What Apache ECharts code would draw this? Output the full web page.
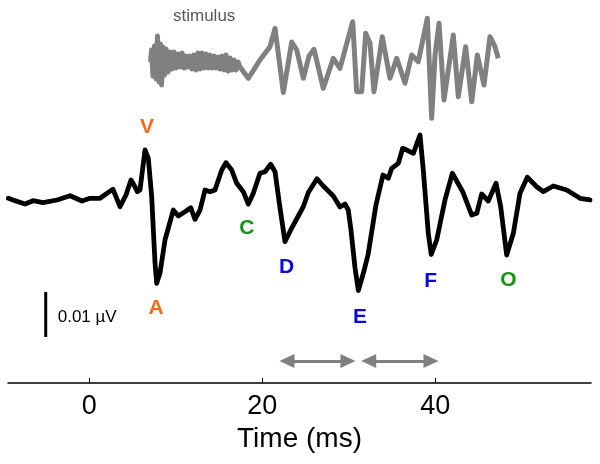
<!DOCTYPE html>
<html><head><meta charset="utf-8">
<script src="https://cdn.jsdelivr.net/npm/echarts@6/dist/echarts.min.js"></script>
<style>html,body{margin:0;padding:0;background:#fff}#c{width:600px;height:464px}</style>
</head><body><div id="c"></div>
<script>
// Response waveform (time in ms, amplitude in nV)
const respTime=[-9.36,-8.82,-7.43,-6.51,-5.35,-3.73,-2.23,-0.84,0.08,1.24,2.05,2.74,3.55,4.24,4.82,5.28,5.55,5.86,6.44,6.82,7.21,7.60,7.79,8.17,8.75,9.71,10.29,11.06,11.72,12.22,12.80,13.38,13.95,14.53,15.31,15.80,16.46,17.04,17.80,18.38,18.96,19.73,20.31,20.97,21.47,21.97,22.62,23.38,24.16,24.74,25.32,26.32,27.05,28.21,28.98,29.56,29.94,30.25,30.72,31.10,31.68,32.22,33.14,33.95,34.57,34.96,35.72,36.23,36.69,37.46,38.23,38.61,39.19,39.53,40.16,41.12,41.97,43.17,44.21,44.79,45.36,46.13,47.02,47.56,48.25,49.02,49.79,50.64,51.72,52.49,53.64,55.19,56.73,57.89];
const respAmp=[1.04,0.67,-0.22,0.51,0.07,0.67,1.62,0.44,1.04,1.04,2.16,3.04,-0.82,1.78,5.11,3.62,2.51,2.89,11.78,9.93,1.4,-13.4,-17.84,-15.62,-8.22,-1.56,-2.89,-1.93,-1.04,-3.62,-1.56,2.89,2.51,2.89,7.33,8.96,7.33,4.38,2.51,-0.22,2.16,6.6,6.96,8.6,6.96,-0.07,-8.6,-5.62,-2.89,-0.82,2.33,5.38,3.78,1.56,-0.89,-0.22,-1.56,-6.0,-14.44,-19.44,-15.62,-11.56,-0.44,6.22,5.49,7.71,8.82,12.16,11.78,11.04,15.11,7.33,-6.73,-11.44,-8.22,0.67,6.6,2.51,-2.67,-2.29,2.0,0.44,4.38,-0.82,-11.56,-6.73,2.16,5.71,3.62,2.51,3.78,2.89,1.04,0.67];

// Stimulus waveform (time in ms, arbitrary amplitude)
const stimTime=[7.08,7.19,7.36,7.54,7.71,7.88,8.06,8.23,8.35,8.52,8.69,8.87,9.10,9.33,9.56,9.79,10.02,10.25,10.49,10.72,10.95,11.18,11.41,11.64,11.87,12.10,12.34,12.57,12.80,13.03,13.26,13.49,13.72,13.95,14.19,14.42,14.65,14.88,15.11,15.34,15.57,15.80,16.04,16.27,16.50,16.73,16.96,17.19,17.42,18.38,19.73,20.89,21.47,22.43,23.40,23.98,24.74,25.40,25.98,27.05,28.21,28.98,30.45,30.91,31.49,31.95,32.45,32.91,33.87,34.76,35.54,36.50,37.27,38.03,39.08,39.58,39.97,40.43,41.01,42.08,42.66,43.51,44.21,44.86,45.63,46.32,46.90,47.28];
const stimAmp=[3,15,-11,19,-14,29,-17,21,-20,18,-10,16,-7,13,-4,13,-3,11,-2,12,-3,9,-2,9,-4,10,-5,12,-4,12,-3,11,-3,10,-3,9,-3,8,-4,9,-5,10,-6,7,-5,5,-5,3,-2,-13.3,5,18.3,36.7,-27.5,23,15,-13.3,9,15.7,-23.3,6.7,-3.3,43.3,-26.7,-26.7,31.7,21.7,-26.7,28.3,-13.3,6.7,-18.3,10,3.3,46.7,-53.3,10,41.7,-35,30,-31.7,18.3,-36.7,10,-20,28.3,18.3,6.7];

// Peak labels
const peakNames=['V','A','C','D','E','F','O'];
const peakTime=[6.67,7.71,18.2,22.82,31.29,39.47,48.44];
const peakAmp=[16.89,-23.33,-5.62,-14.16,-25.27,-17.27,-17.11];

// Axis ticks
const tickValues=[0,20,40];

// Interval arrows (ms, tip to tip)
const arrowFrom=[22.05,31.5];
const arrowTo=[30.7,40.3];
const arrowLevel=-35.1;

// Scale bar (nV)
const scaleBarTime=-5.04;
const scaleBarAmp=[-19.8,-29.8];
const scaleLabel='0.01 µV';
const scaleLabelPos=[-3.65,-25.5];
const stimLabel='stimulus';
const stimLabelPos=[13.28,48.3];

const FONT='"Liberation Sans", Arial, sans-serif';
const peakColor={V:'#F26B1D',A:'#F26B1D',C:'#139313',O:'#139313',D:'#0A0AE0',E:'#0A0AE0',F:'#0A0AE0'};
const headInset=0.8; // half arrow-head length in ms, so tips land on the interval ends

const chart=echarts.init(document.getElementById('c'),null,{renderer:'canvas'});
chart.setOption({
  animation:false,
  backgroundColor:'#fff',
  grid:[{left:8,right:9,top:0,bottom:81},{left:8,right:9,top:0,height:130}],
  xAxis:[
    {type:'value',gridIndex:0,min:-9.4,max:58,
     axisLine:{onZero:false,lineStyle:{color:'#000',width:1.5}},
     axisTick:{inside:true,length:5,customValues:tickValues,lineStyle:{color:'#000',width:1}},
     axisLabel:{customValues:tickValues,fontSize:27,color:'#000',margin:10,fontFamily:FONT},
     splitLine:{show:false},
     name:'Time (ms)',nameLocation:'middle',nameGap:42,
     nameTextStyle:{fontSize:28,color:'#000',fontFamily:FONT}},
    {type:'value',gridIndex:1,min:-9.4,max:58,show:false}
  ],
  yAxis:[
    {type:'value',gridIndex:0,min:-40,max:45.11,show:false},
    {type:'value',gridIndex:1,min:-65,max:65,show:false}
  ],
  series:[
    {type:'line',xAxisIndex:1,yAxisIndex:1,symbol:'none',
     data:stimTime.map((t,i)=>[t,stimAmp[i]]),
     lineStyle:{color:'#808080',width:5,join:'round'}},
    {type:'line',xAxisIndex:0,yAxisIndex:0,symbol:'none',
     data:respTime.map((t,i)=>[t,respAmp[i]]),
     lineStyle:{color:'#000',width:4.8,join:'round',cap:'round'},
     markLine:{silent:true,symbol:['triangle','triangle'],symbolSize:[14,15],
       label:{show:false},lineStyle:{color:'#808080',width:3,type:'solid',opacity:1},
       itemStyle:{color:'#808080'},
       emphasis:{disabled:true},
       data:arrowFrom.map((f,i)=>[{coord:[f+headInset,arrowLevel]},{coord:[arrowTo[i]-headInset,arrowLevel]}])}},
    {type:'line',xAxisIndex:0,yAxisIndex:0,symbol:'none',
     data:scaleBarAmp.map(a=>[scaleBarTime,a]),
     lineStyle:{color:'#000',width:3}},
    {type:'scatter',xAxisIndex:0,yAxisIndex:0,symbolSize:1,
     itemStyle:{color:'#fff',opacity:0},
     label:{show:true,position:'inside',formatter:'{b}',fontSize:21,fontWeight:'bold',fontFamily:FONT,
            textBorderWidth:0,textBorderColor:'transparent',opacity:1},
     emphasis:{disabled:true},
     data:peakNames.map((n,i)=>({name:n,value:[peakTime[i],peakAmp[i]],label:{color:peakColor[n]}}))},
    {type:'scatter',xAxisIndex:0,yAxisIndex:0,symbolSize:1,
     itemStyle:{color:'#fff',opacity:0},
     label:{show:true,position:'inside',align:'left',formatter:'{b}',fontSize:17,color:'#000',fontFamily:FONT,
            textBorderWidth:0,opacity:1},
     emphasis:{disabled:true},
     data:[{name:scaleLabel,value:scaleLabelPos}]},
    {type:'scatter',xAxisIndex:1,yAxisIndex:1,symbolSize:1,
     itemStyle:{color:'#fff',opacity:0},
     label:{show:true,position:'inside',formatter:'{b}',fontSize:17,color:'#595959',fontFamily:FONT,
            textBorderWidth:0,opacity:1},
     emphasis:{disabled:true},
     data:[{name:stimLabel,value:stimLabelPos}]}
  ]
});
</script></body></html>
